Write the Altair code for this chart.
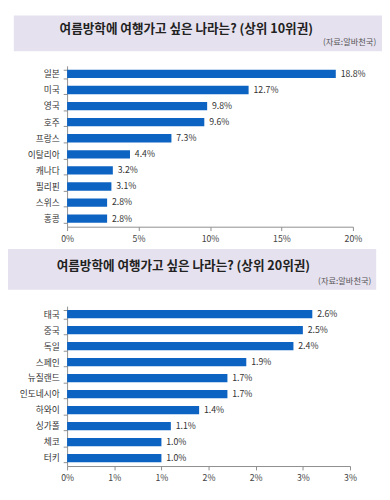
import altair as alt
import pandas as pd

top_countries = ["일본", "미국", "영국", "호주", "프랑스", "이탈리아", "캐나다", "필리핀", "스위스", "홍콩"]
top_values = [18.8, 12.7, 9.8, 9.6, 7.3, 4.4, 3.2, 3.1, 2.8, 2.8]
bottom_countries = ["태국", "중국", "독일", "스페인", "뉴질랜드", "인도네시아", "하와이", "싱가폴", "체코", "터키"]
bottom_values = [2.6, 2.5, 2.4, 1.9, 1.7, 1.7, 1.4, 1.1, 1.0, 1.0]
top_ticks = [0, 5, 10, 15, 20]
bottom_ticks = [0, 0.5, 1, 1.5, 2, 2.5, 3]
title_top = "여름방학에 여행가고 싶은 나라는? (상위 10위권)"
title_bottom = "여름방학에 여행가고 싶은 나라는? (상위 20위권)"
source_text = "(자료:알바천국)"

FONT = "Noto Sans CJK KR"
BLUE = "#0d63c2"
BOX = "#e5e1ef"
AXIS_GRAY = "#8c8c8c"


def panel(countries, values, ticks, dmax, label_expr, title, width, height,
          left, box_w, box_top, box_h, title_x, title_y, src_x, src_y):
    df = pd.DataFrame({
        "country": countries,
        "value": values,
        "label": [f"{v:.1f}%" for v in values],
    })
    ysc = alt.Scale(paddingInner=0.48, paddingOuter=0.24)
    y = alt.Y("country:N", sort=countries, title=None, scale=ysc,
              axis=alt.Axis(labelFont=FONT, labelFontSize=9, labelColor="#333333",
                            domainColor=AXIS_GRAY, tickColor=AXIS_GRAY, tickSize=4,
                            labelPadding=4, tickBand="extent"))
    x = alt.X("value:Q", title=None,
              scale=alt.Scale(domain=[0, dmax], nice=False, zero=True),
              axis=alt.Axis(values=ticks, labelExpr=label_expr, grid=False,
                            labelFont=FONT, labelFontSize=9, labelColor="#444444",
                            domainColor=AXIS_GRAY, tickColor=AXIS_GRAY, tickSize=4,
                            labelPadding=4, labelFlush=False))
    base = alt.Chart(df)
    bars = base.mark_bar(color=BLUE).encode(x=x, y=y)
    labels = base.mark_text(align="left", baseline="middle", dx=5, font=FONT,
                            fontSize=9, color="#333333").encode(
        x="value:Q", y=alt.Y("country:N", sort=countries), text="label:N")

    tdf = pd.DataFrame({"t": [title], "s": [source_text]})
    tbase = alt.Chart(tdf)
    box = tbase.mark_rect(color=BOX).encode(
        x=alt.value(-left), x2=alt.value(-left + box_w),
        y=alt.value(box_top), y2=alt.value(box_top + box_h))
    ttl = tbase.mark_text(align="center", baseline="middle", font=FONT,
                          fontSize=13, fontWeight="bold", color="#222222").encode(
        x=alt.value(title_x), y=alt.value(title_y), text="t:N")
    src = tbase.mark_text(align="right", baseline="middle", font=FONT,
                          fontSize=8.5, color="#555555").encode(
        x=alt.value(src_x), y=alt.value(src_y), text="s:N")
    return alt.layer(box, ttl, src, bars, labels).properties(width=width, height=height)


top = panel(top_countries, top_values, top_ticks, 20, "datum.value + '%'",
            title_top, 295, 166, left=55, box_w=380, box_top=-52, box_h=37,
            title_x=123, title_y=-38, src_x=319, src_y=-25)
bottom = panel(bottom_countries, bottom_values, bottom_ticks, 3,
               "format(round(datum.value), 'd') + '%'",
               title_bottom, 292, 165, left=61, box_w=380, box_top=-59, box_h=42,
               title_x=120, title_y=-41, src_x=314, src_y=-26)

chart = alt.vconcat(top, bottom, spacing=6).properties(
    padding={"left": 0, "top": 0, "right": 0, "bottom": 0}, background="white"
).configure_view(strokeWidth=0)

chart.save("out.html", embed_options={"renderer": "svg", "actions": False})
